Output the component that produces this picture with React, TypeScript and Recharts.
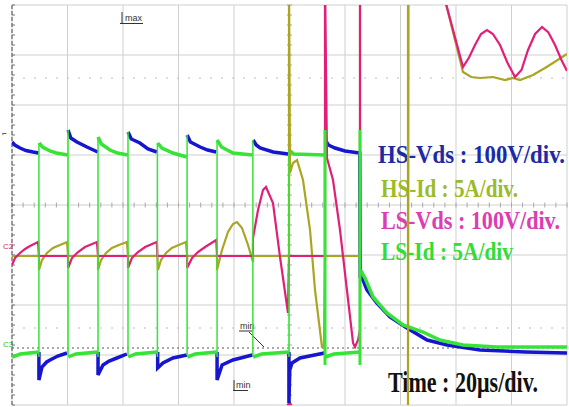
import React from 'react';
import { LineChart, Line, XAxis, YAxis, CartesianGrid, ReferenceLine, Customized } from 'recharts';

// time in µs (10 div x 20 µs), amplitude in screen divisions from the bottom (0..8)
type P = [number, number | null];

const timeTicks = [0, 20, 40, 60, 80, 100, 120, 140, 160, 180, 200];
const divTicks = [0, 1, 2, 3, 4, 5, 6, 7, 8];

const hsVdsTop: P[] = [
  [0, 5.26], [1, 5.2], [2.9, 5.14], [5, 5.09], [7.6, 5.06], [9.6, 5.04], [9.7, null],
  [20.2, 5.5], [21.2, 5.34], [23.4, 5.26], [27, 5.16], [30.9, 5.06], [31, null],
  [41.8, 5.46], [43, 5.32], [46.1, 5.24], [49, 5.12], [52.2, 5.06], [52.4, null],
  [63.1, 5.4], [64.3, 5.26], [67.8, 5.16], [70.5, 5.1], [73.6, 5.06], [73.9, null],
  [86.9, 5.3], [88, 5.2], [89.4, 5.14], [94.1, 5.06], [99.5, 5.02], [99.8, null],
  [112.9, 5.3], [114, 5.2], [116.4, 5.14], [120, 5.08], [125.3, 5.04],
  [125.5, 2.56], [126.5, 2.5], [127.9, 2.3], [131.5, 2.04], [136.2, 1.76], [142.3, 1.54],
  [149.6, 1.3], [156.8, 1.2], [168.7, 1.1], [185, 1.06], [200, 1.04],
];

const hsVdsBottom: P[] = [
  [9.7, 1.06], [9.7, 0.5], [10.8, 0.76], [12.5, 0.86], [13.7, 0.9], [16.5, 0.98], [19.8, 1.04], [20.1, null],
  [31.0, 1.06], [31.0, 0.6], [32.8, 0.8], [35, 0.88], [37.8, 0.94], [41.4, 1.02], [41.6, null],
  [52.5, 1.06], [52.5, 0.74], [54.4, 0.84], [58, 0.94], [63, 1.0], [63.1, null],
  [73.9, 1.06], [73.9, 0.5], [75.7, 0.8], [79.6, 0.9], [86.6, 1.0], [86.7, null],
  [99.8, 1.06], [99.8, 0.04], [100.1, 0.7], [100.9, 0.84], [103.8, 0.94], [112.6, 1.04],
];

const lsIdTop: P[] = [
  [9.8, 5.24], [11, 5.16], [13.7, 5.08], [16, 5.04], [20.1, 5.0], [20.2, null],
  [31.0, 5.36], [32.2, 5.22], [35.3, 5.1], [38, 5.04], [41.7, 5.0], [41.8, null],
  [52.5, 5.24], [54, 5.14], [58, 5.04], [63, 4.96], [63.1, null],
  [73.9, 5.3], [75.5, 5.16], [79.6, 5.04], [86.7, 5.0], [86.8, null],
  [99.9, 5.1], [101.5, 5.02], [112.7, 5.0], [112.8, null],
  [125.6, 2.7], [127.2, 2.54], [130.1, 2.16], [135.1, 1.84], [140.9, 1.6], [148.1, 1.46],
  [154.2, 1.3], [162.5, 1.2], [174.8, 1.16], [200, 1.16],
];

const lsIdBottom: P[] = [
  [0, 0.96], [3, 1.02], [9.6, 1.06], [9.7, null],
  [20.3, 0.96], [23, 1.02], [30.9, 1.06], [31, null],
  [41.9, 0.96], [44.5, 1.02], [52.3, 1.06], [52.4, null],
  [63.2, 0.96], [66, 1.02], [73.8, 1.06], [73.9, null],
  [86.9, 0.96], [90, 1.02], [99.7, 1.06], [99.8, null],
  [112.9, 0.96], [116, 1.02], [125.3, 1.06],
];

const lsIdEdges: P[] = [
  [9.7, 5.24], [9.7, 0.96], [9.8, null],
  [20.2, 5.5], [20.2, 1.0], [20.3, null],
  [31.0, 5.36], [31.0, 0.96], [31.1, null],
  [41.8, 5.46], [41.8, 1.0], [41.9, null],
  [52.4, 5.24], [52.4, 0.96], [52.5, null],
  [63.1, 5.4], [63.1, 1.0], [63.2, null],
  [73.9, 5.3], [73.9, 0.96], [74, null],
  [86.8, 5.3], [86.8, 1.0], [86.9, null],
  [99.8, 5.1], [99.8, 0.96],
];

const lsIdEdgesBold: P[] = [
  [112.8, 5.5], [112.8, 0.8], [112.9, null],
  [125.4, 5.5], [125.4, 0.8],
];

const hsId: P[] = [
  [0, 2.98], [9.7, 2.98],
  [9.73, 2.7], [10.81, 2.9], [12.61, 3.04], [14.77, 3.14], [17.3, 3.2], [19.82, 3.26],
  [20.2, 2.98], [31.0, 2.98],
  [31.0, 2.7], [32.1, 2.9], [33.9, 3.04], [36, 3.14], [38.5, 3.2], [41.4, 3.26],
  [41.8, 2.98], [52.4, 2.98],
  [52.6, 2.7], [53.7, 2.9], [55.5, 3.04], [57.6, 3.14], [60.1, 3.2], [62.7, 3.26],
  [63.1, 2.98], [73.9, 2.98],
  [73.87, 2.7], [75.68, 3.1], [77.84, 3.46], [79.64, 3.62], [81.08, 3.66], [82.88, 3.54], [85.05, 3.2], [86.85, 2.86],
  [86.85, 2.98], [99.82, 2.98], [99.82, 8.6],
  [100.18, 4.64], [101.26, 4.84], [102.7, 4.9], [104.86, 4.5], [107.4, 3.5], [109.19, 2.3], [111.7, 1.16], [112.4, 1.14],
  [112.79, 2.98], [125.41, 2.98], [125.41, 8.6], [142.7, 8.6], [142.7, -0.5], [142.9, 8.6], [154.5, 8.6],
  [156.04, 8.1], [162.52, 6.66], [165.5, 6.56], [168.65, 6.54], [173.33, 6.56], [177.66, 6.5],
  [180.54, 6.54], [183.06, 6.5], [187.75, 6.6], [192.07, 6.74], [194.95, 6.84], [200, 7.02],
];

const lsVds: P[] = [
  [0, 2.8], [1.1, 2.94], [2.9, 3.04], [4.7, 3.12], [6.5, 3.18], [9.4, 3.26],
  [9.7, 2.98], [20.2, 2.98],
  [20.2, 2.74], [21.6, 2.94], [23.8, 3.06], [26.3, 3.16], [30.6, 3.26],
  [31.0, 2.98], [41.8, 2.98],
  [41.8, 2.74], [43.2, 2.94], [45.4, 3.06], [48, 3.16], [52.2, 3.26],
  [52.4, 2.98], [63.1, 2.98],
  [63.1, 2.74], [64.9, 2.94], [67.0, 3.06], [69.6, 3.16], [73.6, 3.3],
  [73.9, 2.98], [86.8, 2.98],
  [86.85, 3.34], [88.65, 3.9], [90.45, 4.3], [91.53, 4.36], [94.05, 4.04], [96.58, 2.96], [99.46, 1.84],
  [99.82, 2.98], [112.79, 2.98], [112.79, 8.6],
  [113.51, 4.94], [115.68, 4.5], [118.2, 3.5], [120.7, 2.3], [122.9, 1.24], [123.6, 1.16], [124.7, 1.3], [125.41, 1.5],
  [125.41, 8.6], [154.5, 8.6],
  [156.04, 8.1], [162.52, 6.76], [164.7, 6.95], [166.85, 7.2], [169, 7.42], [171.17, 7.5], [173.3, 7.42],
  [175.86, 7.2], [178.5, 6.85], [181.26, 6.56], [183.6, 6.7], [185.95, 7.1], [188.5, 7.42], [190.99, 7.56],
  [193.3, 7.45], [195.68, 7.2], [198, 6.9], [200, 6.68],
];

const legendLines = [
  { text: 'HS-Vds : 100V/div.', color: '#1c2aa6' },
  { text: 'HS-Id : 5A/div.', color: '#9cbb2a' },
  { text: 'LS-Vds : 100V/div.', color: '#dd3cb2' },
  { text: 'LS-Id : 5A/div', color: '#33dd33' },
];
const timeLabel = 'Time : 20μs/div.';

const toRows = (pts: P[]) => pts.map(([t, v]) => ({ t, v }));

const COLORS = {
  blue: '#1616cf',
  green: '#38e338',
  magenta: '#e21f78',
  olive: '#aaa624',
};

const SERIF = "'Liberation Serif', 'DejaVu Serif', serif";

const Overlay = () => {
  const left = 12, top = 5, w = 555, h = 400;
  const cx = left + w / 2, cy = top + h / 2;
  const hTicks = [];
  for (let i = 0; i <= 50; i++) {
    const x = left + (i * w) / 50;
    hTicks.push(<line key={'h' + i} x1={x} x2={x} y1={cy - 2.5} y2={cy + 2.5} stroke="#a8a8a8" strokeWidth={1} />);
  }
  const vTicks = [];
  for (let j = 0; j <= 40; j++) {
    const y = top + (j * h) / 40;
    vTicks.push(<line key={'v' + j} x1={cx - 2.5} x2={cx + 2.5} y1={y} y2={y} stroke="#a8a8a8" strokeWidth={1} />);
    vTicks.push(<line key={'l' + j} x1={left} x2={left + 3} y1={y} y2={y} stroke="#777" strokeWidth={1} />);
  }
  const legendY = [163, 197, 229, 260];
  const legendX = [378, 381, 381, 381];
  const legendW = [187, 137, 179, 132];
  return (
    <g>
      {hTicks}
      {vTicks}
      <text x={2} y={136} fontSize={8} fill="#333" fontFamily="Arial">⌐</text>
      <text x={3} y={249} fontSize={8} fill="#e21f78" fontFamily="Arial">C2</text>
      <text x={3} y={347} fontSize={8} fill="#2ec02e" fontFamily="Arial">C3</text>
      <line x1={122} x2={122} y1={12} y2={23} stroke="#333" strokeWidth={1} />
      <line x1={120} x2={143} y1={23.5} y2={23.5} stroke="#333" strokeWidth={1} />
      <text x={125} y={21} fontSize={9} fill="#333" fontFamily="Arial">max</text>
      <text x={240} y={329} fontSize={9} fill="#333" fontFamily="Arial">min</text>
      <line x1={239} x2={252} y1={331} y2={331} stroke="#333" strokeWidth={1} />
      <line x1={249} x2={264} y1={332} y2={347} stroke="#333" strokeWidth={1} />
      <line x1={234} x2={234} y1={380} y2={390} stroke="#333" strokeWidth={1} />
      <line x1={233} x2={248} y1={390.5} y2={390.5} stroke="#333" strokeWidth={1} />
      <text x={236} y={388} fontSize={9} fill="#333" fontFamily="Arial">min</text>
      <path d={`M ${cx - 3} ${top + h} L ${cx + 3} ${top + h} L ${cx} ${top + h - 5} Z`} fill="#e21f78" />
      {legendLines.map((l, i) => (
        <text
          key={l.text}
          x={0}
          y={0}
          transform={`translate(${legendX[i]} ${legendY[i]}) scale(1 1.28)`}
          fontSize={20}
          fontWeight="bold"
          fontFamily={SERIF}
          fill={l.color}
          textLength={legendW[i]}
          lengthAdjust="spacingAndGlyphs"
        >
          {l.text}
        </text>
      ))}
      <text
        x={0}
        y={0}
        transform="translate(388 392) scale(1 1.38)"
        fontSize={21}
        fontWeight="bold"
        fontFamily={SERIF}
        fill="#111"
        textLength={150}
        lengthAdjust="spacingAndGlyphs"
      >
        {timeLabel}
      </text>
    </g>
  );
};

export default function App() {
  const common = {
    type: 'linear' as const,
    dataKey: 'v',
    dot: false,
    activeDot: false,
    isAnimationActive: false,
    connectNulls: false,
  };
  return (
    <div style={{ position: 'absolute', left: 0, top: 0, background: '#fff' }}>
      <LineChart width={569} height={407} margin={{ top: 5, right: 2, bottom: 2, left: 12 }}>
        <CartesianGrid stroke="#cfcfcf" strokeWidth={1} />
        <XAxis type="number" dataKey="t" domain={[0, 200]} ticks={timeTicks} allowDataOverflow hide />
        <YAxis type="number" domain={[0, 8]} ticks={divTicks} allowDataOverflow hide />
        <ReferenceLine y={(405 - 78) / 50} stroke="#bdbdbd" strokeDasharray="2 9" />
        <ReferenceLine y={(405 - 328) / 50} stroke="#bdbdbd" strokeDasharray="2 9" />
        <ReferenceLine x={0} stroke="#666" strokeDasharray="4 2" strokeWidth={1.2} />
        <Line {...common} data={toRows(hsVdsBottom)} stroke={COLORS.blue} strokeWidth={3.5} />
        <Line {...common} data={toRows(lsIdBottom)} stroke={COLORS.green} strokeWidth={3.5} />
        <ReferenceLine y={1.14} stroke="#555" strokeDasharray="2 3" />
        <Line {...common} data={toRows(hsVdsTop)} stroke={COLORS.blue} strokeWidth={3.5} />
        <Line {...common} data={toRows(lsIdTop)} stroke={COLORS.green} strokeWidth={3.5} />
        <Line {...common} data={toRows(hsId)} stroke={COLORS.olive} strokeWidth={2.2} />
        <Line {...common} data={toRows(lsVds)} stroke={COLORS.magenta} strokeWidth={2.2} />
        <Line {...common} data={toRows(lsIdEdges)} stroke={COLORS.green} strokeWidth={1.5} />
        <Line {...common} data={toRows(lsIdEdgesBold)} stroke={COLORS.green} strokeWidth={3} />
        <Customized component={<Overlay />} />
      </LineChart>
    </div>
  );
}
